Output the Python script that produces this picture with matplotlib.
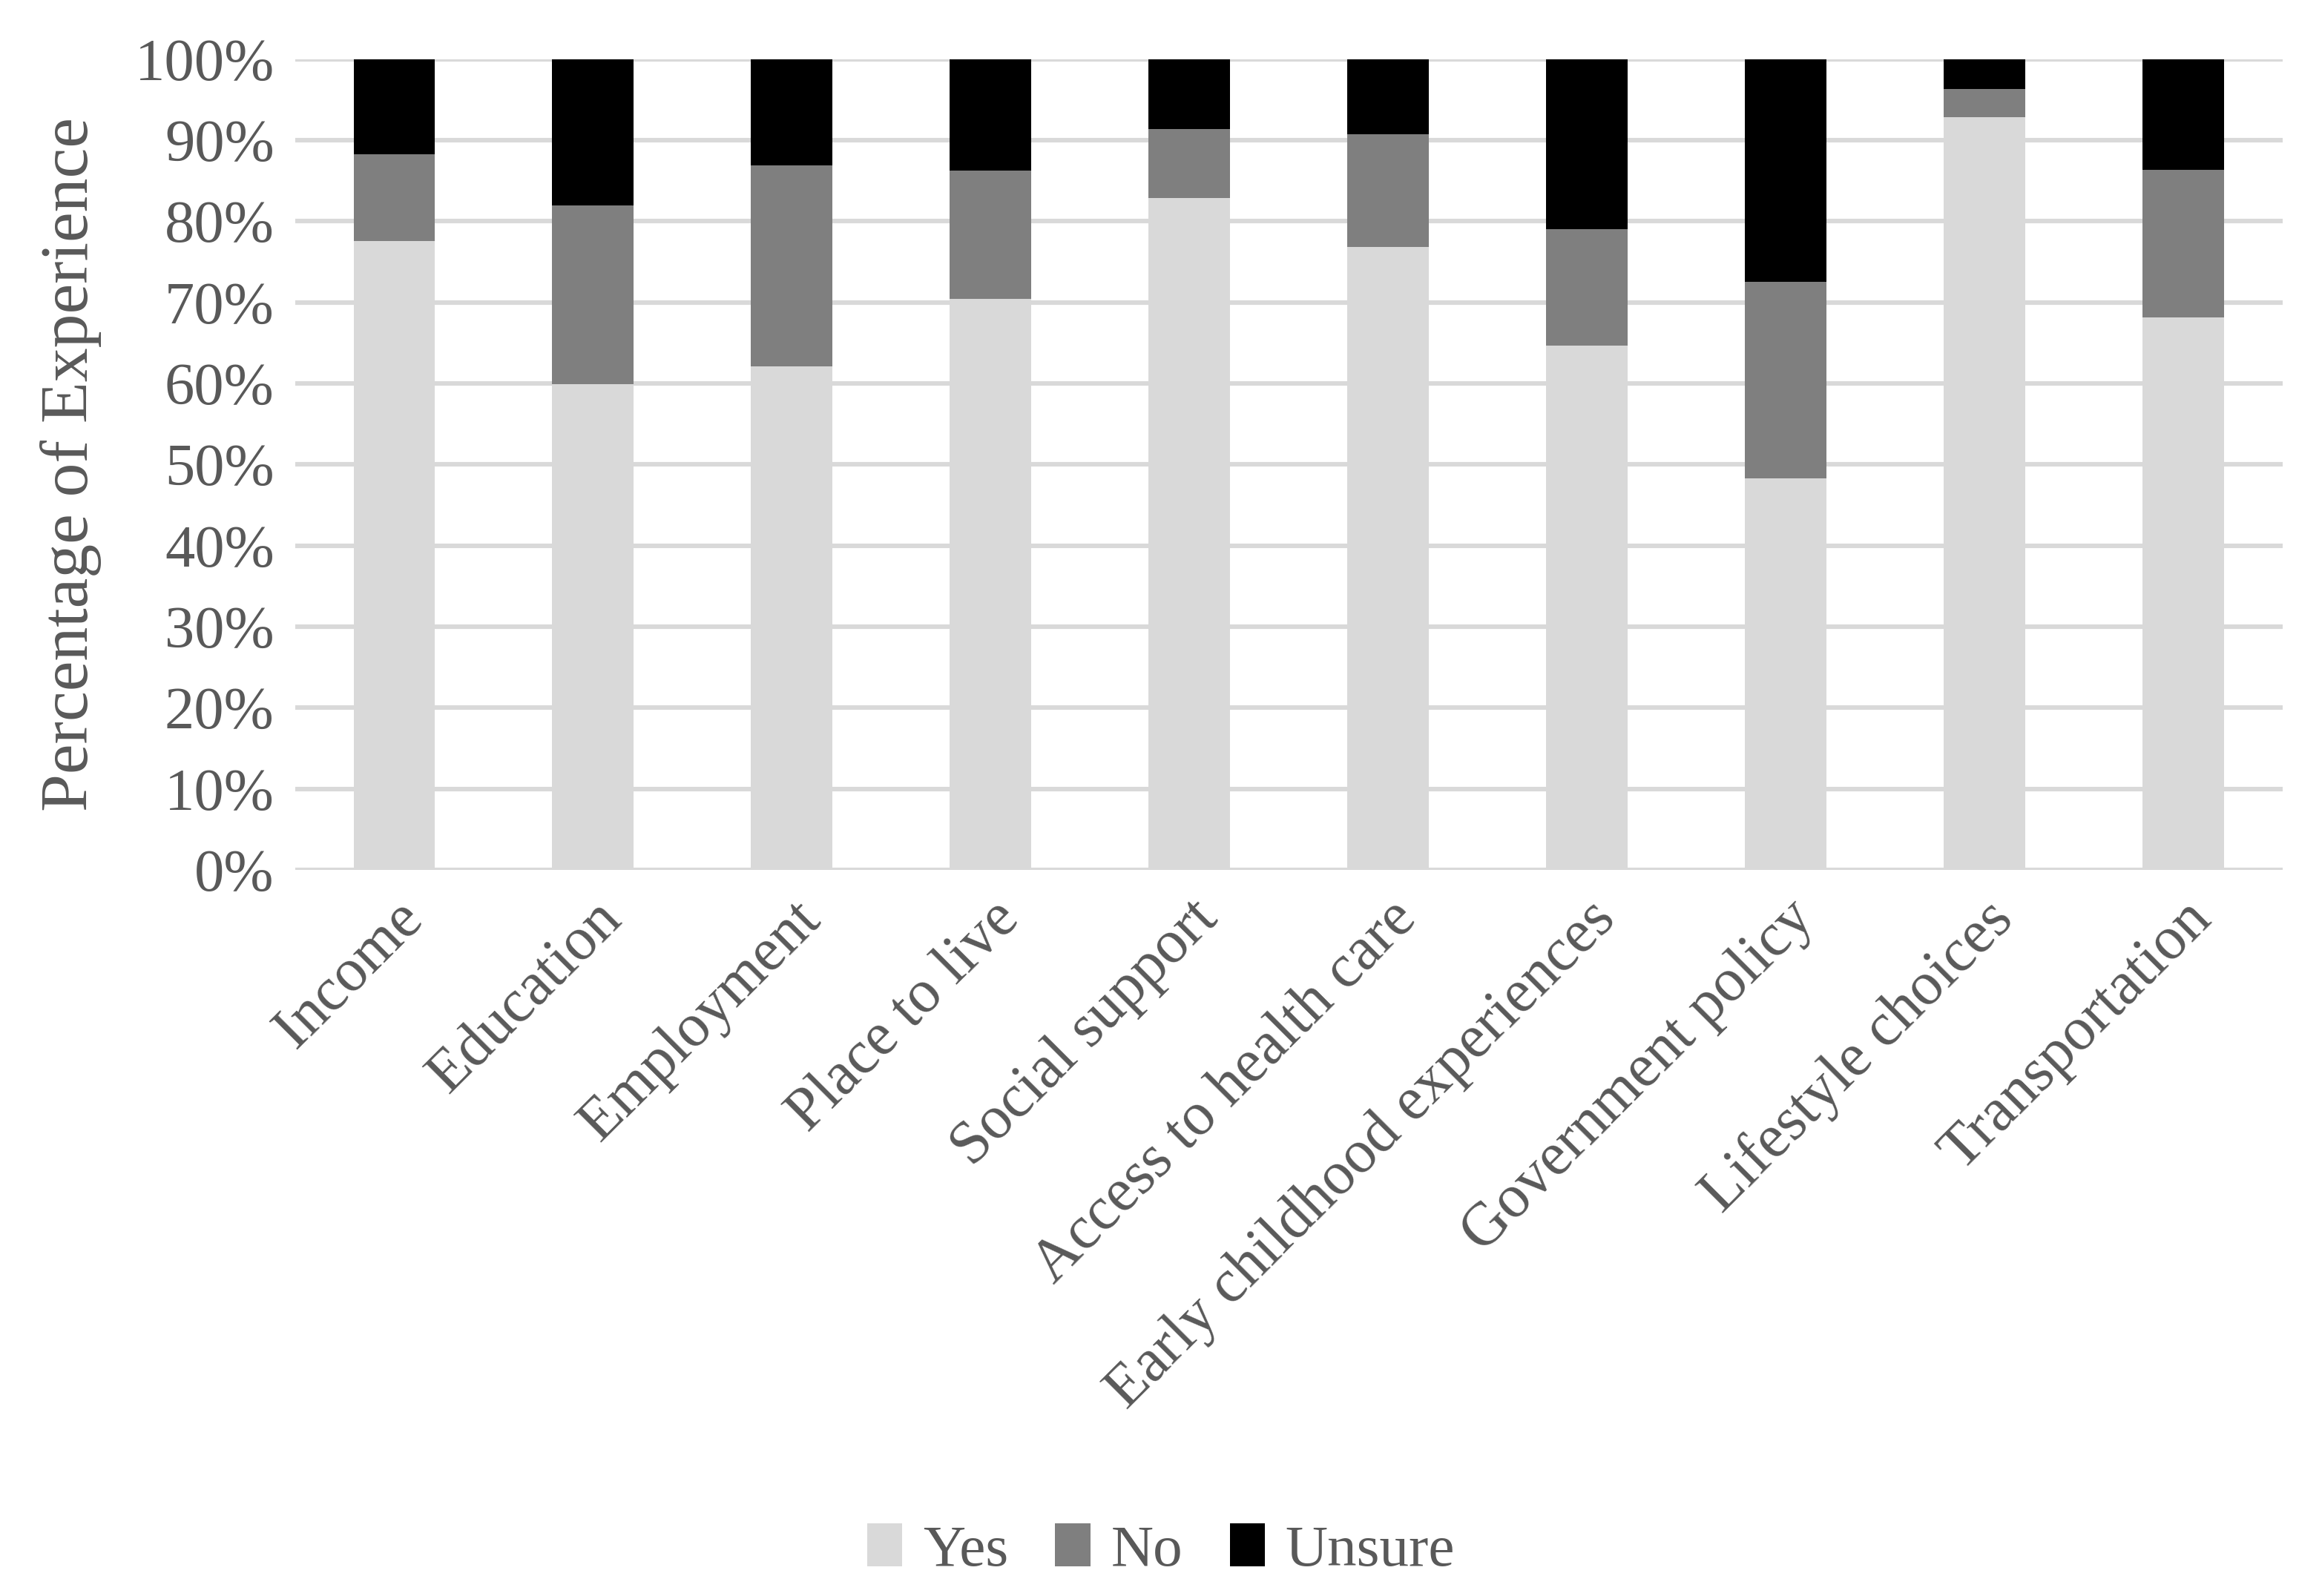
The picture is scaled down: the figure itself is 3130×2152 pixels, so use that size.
import numpy as np
import matplotlib.pyplot as plt
from matplotlib.ticker import PercentFormatter

# Share of respondents per determinant (percent)
categories = ["Income", "Education", "Employment", "Place to live", "Social support",
              "Access to health care", "Early childhood experiences",
              "Government policy", "Lifestyle choices", "Transportation"]
yes = [77.6, 59.9, 62.1, 70.4, 82.9, 76.8, 64.7, 48.3, 92.8, 68.1]
no = [10.7, 22.0, 24.8, 15.8, 8.5, 13.9, 14.3, 24.2, 3.5, 18.2]
unsure = [11.7, 18.1, 13.1, 13.8, 8.6, 9.3, 21.0, 27.5, 3.7, 13.7]

text_color = "#595959"
plt.rcParams["font.family"] = ["Liberation Serif", "DejaVu Serif"]

fig = plt.figure(figsize=(15.65, 10.76), dpi=200)
ax = fig.add_axes([0.127, 0.455, 0.856, 0.508])

x = np.arange(len(categories))
w = 0.41
yes_a = np.array(yes)
no_a = np.array(no)
uns_a = np.array(unsure)

ax.bar(x, yes_a, w, color="#D9D9D9", label="Yes", zorder=3)
ax.bar(x, no_a, w, bottom=yes_a, color="#7F7F7F", label="No", zorder=3)
ax.bar(x, uns_a, w, bottom=yes_a + no_a, color="#000000", label="Unsure", zorder=3)

ax.set_xlim(-0.5, len(categories) - 0.5)
ax.set_ylim(0, 100)
ax.set_yticks(np.arange(0, 101, 10))
ax.yaxis.set_major_formatter(PercentFormatter(decimals=0))
ax.yaxis.grid(True, color="#D9D9D9", linewidth=2.2, zorder=0)
ax.set_axisbelow(True)
for s in ax.spines.values():
    s.set_visible(False)
ax.axhline(0, color="#D9D9D9", linewidth=2.2, zorder=1)

ax.tick_params(axis="y", length=0, labelsize=29, colors=text_color, pad=10)
ax.tick_params(axis="x", length=0, labelsize=29.5, colors=text_color, pad=10)
ax.set_xticks(x)
ax.set_xticklabels(categories, rotation=45, ha="right", rotation_mode="anchor")
ax.set_ylabel("Percentage of Experience", fontsize=33, color=text_color, labelpad=16)

fig.legend(loc="lower center", bbox_to_anchor=(0.5, -0.022), ncol=3, frameon=False,
           fontsize=28.5, labelcolor=text_color, handlelength=0.6, handleheight=0.75,
           handletextpad=0.35, columnspacing=0.8)

fig.savefig("out.png", dpi=200)
